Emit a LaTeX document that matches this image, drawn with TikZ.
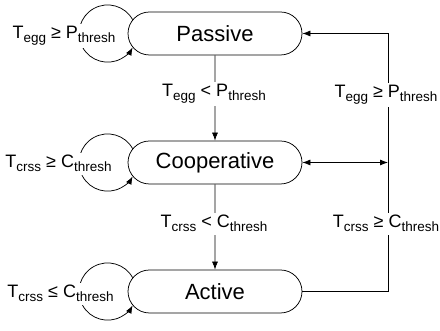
\documentclass[tikz,border=0pt]{standalone}
\usepackage{fontspec}
\setmainfont{Liberation Sans}
\usetikzlibrary{shapes.misc,arrows.meta,calc}
\newcommand{\lo}[1]{\raisebox{-4pt}{\fontsize{13.5}{15}\selectfont #1}}

\begin{document}
\begin{tikzpicture}[x=1pt, y=1pt,
    state/.style={rounded rectangle, draw, line width=0.75pt, minimum width=174pt,
      minimum height=43pt, inner sep=0pt, font=\fontsize{22}{26}\selectfont},
    cond/.style={fill=white, inner sep=2.5pt, anchor=base, font=\fontsize{18}{20}\selectfont},
    arr/.style={line width=0.75pt, -{Latex[length=8pt,width=6pt]}},
    twoway/.style={line width=0.75pt, {Latex[length=8pt,width=6pt]}-{Latex[length=8pt,width=6pt]}}]

  \useasboundingbox (0,0) rectangle (440,331);

  \node[state] (passive) at (215,297.5) {Passive};
  \node[state] (coop)    at (215,168.5) {Cooperative};
  \node[state] (active)  at (215,39.5)  {Active};
  \coordinate (rtop) at (388,297.5);

  % self loops
  \draw[arr] ($(passive.west)+(21.5,0)+(140:21.5)$) arc[start angle=29, end angle=331, radius=28.6];
  \draw[arr] ($(coop.west)+(21.5,0)+(140:21.5)$) arc[start angle=29, end angle=331, radius=28.6];
  \draw[arr] ($(active.west)+(21.5,0)+(140:21.5)$) arc[start angle=29, end angle=331, radius=28.6];
  \node[cond] (lp) at (64,292) {T\lo{egg} ≥ P\lo{thresh}};
  \node[cond] (lc) at (58.5,163) {T\lo{crss} ≥ C\lo{thresh}};
  \node[cond] (la) at (60.5,33) {T\lo{crss} ≤ C\lo{thresh}};

  % down the chain
  \draw[arr] (passive) -- (coop);
  \draw[arr] (coop) -- (active);
  \node[cond] (pc) at (214,234) {T\lo{egg} < P\lo{thresh}};
  \node[cond] (ca) at (214,103) {T\lo{crss} < C\lo{thresh}};

  % back up on the right
  \draw[arr] (active.east) -| (rtop) -- (passive.east);
  \draw[twoway] (coop.east) -- (coop.east -| rtop);
  \node[cond] (ap) at (386,233) {T\lo{egg} ≥ P\lo{thresh}};
  \node[cond] (ac) at (386,103) {T\lo{crss} ≥ C\lo{thresh}};
\end{tikzpicture}
\end{document}
